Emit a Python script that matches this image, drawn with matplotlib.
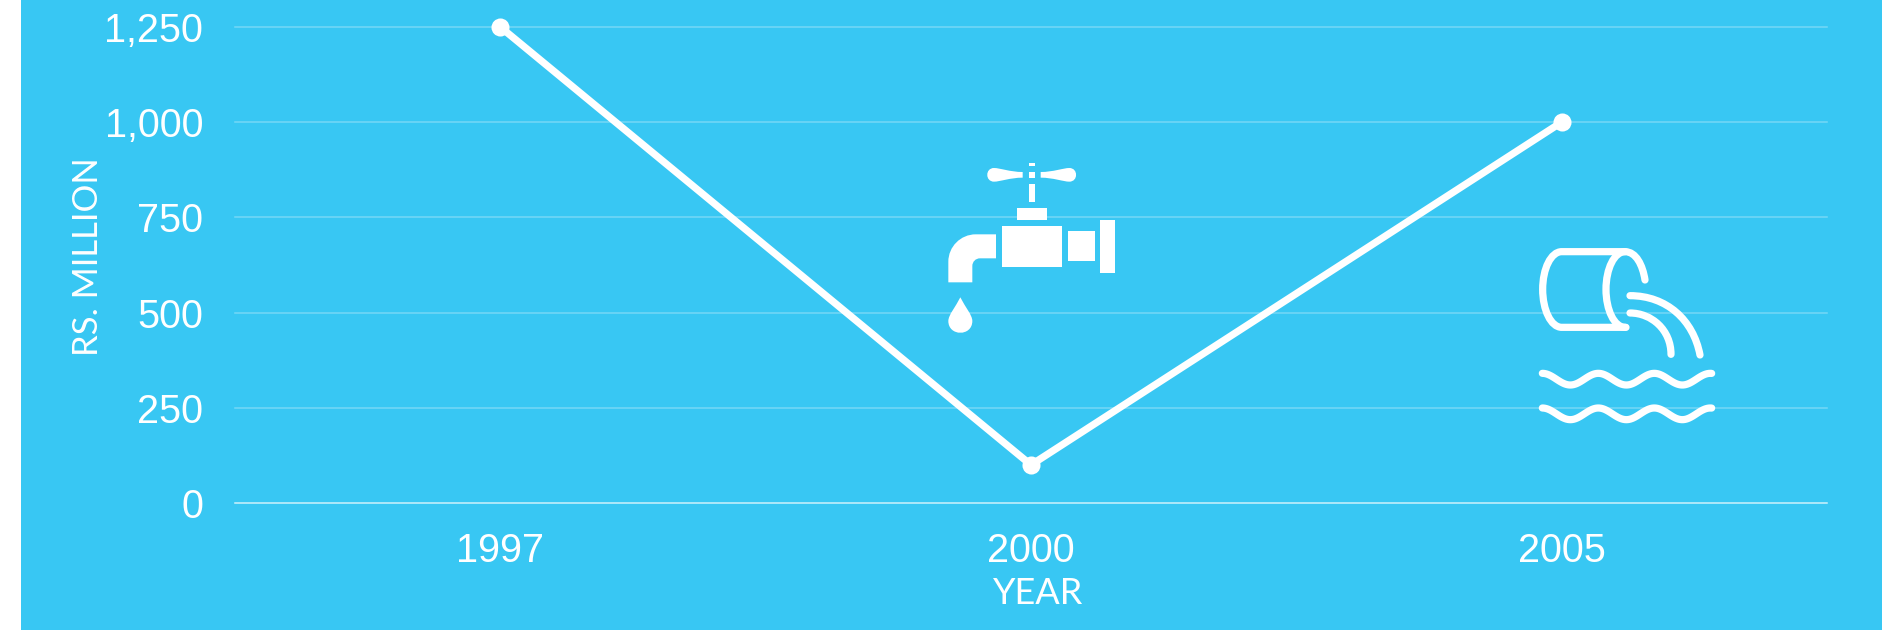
import matplotlib
matplotlib.use('Agg')
import matplotlib.pyplot as plt
import numpy as np
from matplotlib.patches import PathPatch, Rectangle
from matplotlib.path import Path

years = ['1997', '2000', '2005']
values = [1250, 100, 1000]
y_ticks = [0, 250, 500, 750, 1000, 1250]
y_labels = ['0', '250', '500', '750', '1,000', '1,250']

BG = '#38C7F3'
W, H = 1883, 630

plt.rcParams['font.family'] = ['Liberation Sans', 'DejaVu Sans']

fig = plt.figure(figsize=(W / 100, H / 100), dpi=100, facecolor='white')

# blue panel, there is a white strip on the left of the picture
fig.patches.append(Rectangle((21 / W, 0), 1 - 21 / W, 1, transform=fig.transFigure, facecolor=BG, edgecolor='none', zorder=-5))

ax = fig.add_axes([235 / W, 1 - 503 / H, (1827 - 235) / W, (503 - 27) / H])
ax.patch.set_alpha(0)
ax.set_xlim(-0.5, 2.5)
ax.set_ylim(0, 1250)
for s in ax.spines.values():
    s.set_visible(False)

ax.set_yticks(y_ticks)
ax.set_yticklabels(y_labels)
ax.set_xticks(range(len(years)))
ax.set_xticklabels(years)
ax.tick_params(axis='both', length=0, labelcolor='white', labelsize=28.5)
ax.tick_params(axis='y', pad=23)
ax.tick_params(axis='x', pad=21)

for t in y_ticks:
    ax.axhline(t, color='white', lw=1.1, alpha=0.75 if t == 0 else 0.3, clip_on=False, zorder=1)

ax.plot(range(len(years)), values, color='white', lw=5.2, solid_capstyle='round', solid_joinstyle='round',
        marker='o', ms=13, mew=0, clip_on=False, zorder=3)

# overlay in pixels of the picture, for labels and the two icons
ov = fig.add_axes([0, 0, 1, 1])
ov.set_xlim(0, W)
ov.set_ylim(H, 0)
ov.axis('off')
ov.patch.set_alpha(0)

ov.text(1038, 594, 'YEAR', color='white', fontsize=26, family='Lato', ha='center', va='center')
ov.text(88, 257, 'RS. MILLION', color='white', fontsize=25, family='Lato', ha='center', va='center', rotation=90)


def t(px, py):
    return 920 + px / 3, 140 + py / 3


def fill(verts, codes):
    ov.add_patch(PathPatch(Path([t(*v) for v in verts], codes), facecolor='white', edgecolor='none'))


def box(x0, y0, x1, y1):
    fill([(x0, y0), (x1, y0), (x1, y1), (x0, y1), (x0, y0)],
         [Path.MOVETO, Path.LINETO, Path.LINETO, Path.LINETO, Path.CLOSEPOLY])


box(327, 70, 345, 78)
box(327, 96, 345, 113)
box(327, 132, 345, 185)
box(291, 203, 380, 239)
box(246, 257, 425, 382)
box(443, 274, 524, 364)
box(541, 239, 586, 400)

M, L, C4, CP = Path.MOVETO, Path.LINETO, Path.CURVE4, Path.CLOSEPOLY

# handles
fill([(308, 96), (270, 96), (240, 84), (222, 84), (195, 84), (195, 125), (222, 125), (240, 125), (270, 113), (308, 113), (308, 96)],
     [M, C4, C4, C4, C4, C4, C4, C4, C4, C4, CP])
fill([(362, 96), (400, 96), (430, 84), (448, 84), (475, 84), (475, 125), (448, 125), (430, 125), (400, 113), (362, 113), (362, 96)],
     [M, C4, C4, C4, C4, C4, C4, C4, C4, C4, CP])
# spout
fill([(228, 283), (167, 283), (122, 283), (85, 320), (85, 365), (85, 427), (157, 427), (157, 378), (157, 365), (167, 355), (180, 355), (228, 355), (228, 283)],
     [M, L, C4, C4, C4, L, L, L, C4, C4, C4, L, CP])
# drop
fill([(121, 472), (135, 500), (157, 525), (157, 543), (157, 590), (85, 590), (85, 543), (85, 525), (107, 500), (121, 472)],
     [M, C4, C4, C4, C4, C4, C4, C4, C4, CP])


# pipe icon
def p(px, py):
    return 1510 + px / 3, 230 + py / 3


def stroke(verts, codes):
    ov.add_patch(PathPatch(Path([p(*v) for v in verts], codes), facecolor='none', edgecolor='white', lw=5.2, capstyle='round', joinstyle='round'))


stroke([(348, 292), (155, 292), (123, 292), (98, 240), (98, 178), (98, 116), (123, 65), (155, 65), (345, 65), (378, 65), (398, 105), (405, 150)],
       [M, L, C4, C4, C4, C4, C4, C4, L, C4, C4, C4])
stroke([(345, 65), (313, 65), (288, 116), (288, 178), (288, 240), (313, 292), (345, 292)],
       [M, C4, C4, C4, C4, C4, C4])
stroke([(360, 197), (470, 197), (550, 270), (570, 375)], [M, C4, C4, C4])
stroke([(360, 249), (425, 249), (483, 300), (483, 373)], [M, C4, C4, C4])
for base in [430, 534]:
    xs = np.linspace(97, 605, 120)
    ys = base + 17.5 * (1 - np.cos(2 * np.pi * (xs - 97) / 168))
    wx, wy = p(xs, ys)
    ov.plot(wx, wy, color='white', lw=5.2, solid_capstyle='round')

fig.savefig('out.png', dpi=100, facecolor='white')
